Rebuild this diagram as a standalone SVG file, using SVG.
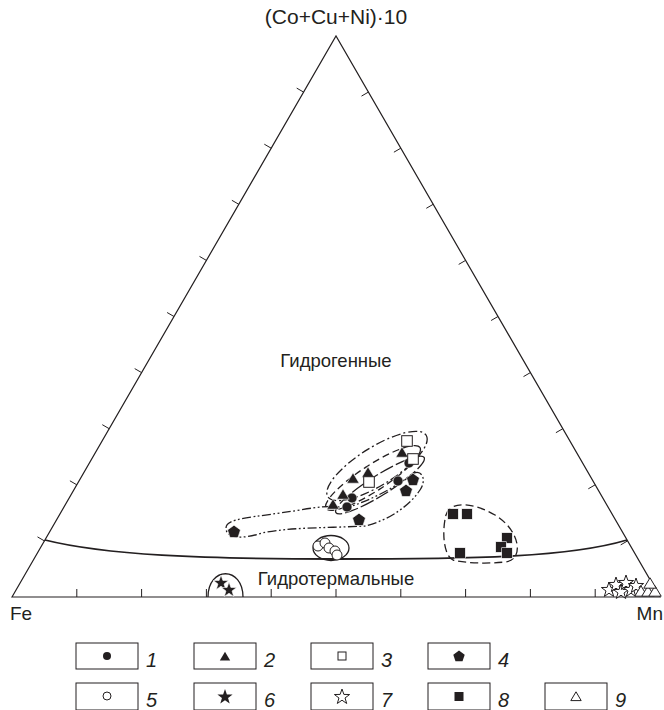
<svg xmlns="http://www.w3.org/2000/svg" width="664" height="710" viewBox="0 0 664 710">
<style>
.ax{fill:none;stroke:#231f20;stroke-width:1.2}
.tk{fill:none;stroke:#231f20;stroke-width:1}
.bnd{fill:none;stroke:#231f20;stroke-width:1.8}
.t{font-family:"Liberation Sans",Arial,sans-serif;font-size:18.5px;fill:#231f20}
.ttl{font-size:21px}
.ax-l{font-size:19px}
.num{font-family:"Liberation Sans",Arial,sans-serif;font-size:20px;font-style:italic;fill:#231f20}
.f{fill:#231f20;stroke:#fff;stroke-width:0.6}
.o{fill:#fff;stroke:#231f20;stroke-width:1}
.ol{fill:none;stroke:#231f20;stroke-width:1.3}
.d1{stroke-dasharray:14 3}
.d2{stroke-dasharray:7 4}
.d3{stroke-dasharray:9 3 2 3}
.d4{stroke-dasharray:9 2.5 1.8 2.5 1.8 2.5}
.d8{stroke-dasharray:8 4}
.box{fill:#fff;stroke:#231f20;stroke-width:1}
</style>
<defs>
<circle id="ci" r="5"/>
<path id="tr" d="M0,-6.2 L6.2,4.2 L-6.2,4.2 Z"/>
<path id="trs" d="M0,-5.2 L5.2,3.6 L-5.2,3.6 Z"/>
<rect id="sq" x="-5.3" y="-5.3" width="10.6" height="10.6"/>
<path id="pe" d="M0,-6.8 L6.467,-2.101 L3.997,5.501 L-3.997,5.501 L-6.467,-2.101 Z"/>
<path id="pes" d="M0,-6 L5.706,-1.854 L3.527,4.854 L-3.527,4.854 L-5.706,-1.854 Z"/>
<path id="st" d="M0,-8 L1.881,-2.589 L7.608,-2.472 L3.043,0.989 L4.703,6.472 L0,3.2 L-4.703,6.472 L-3.043,0.989 L-7.608,-2.472 L-1.881,-2.589 Z"/>
</defs>

<g id="frame">
<path class="ax" d="M12,597 L336,36 L660,597 Z"/>
<path class="tk" d="M76.8,597v-8M141.6,597v-8M206.4,597v-8M271.2,597v-8M336,597v-8M400.8,597v-8M465.6,597v-8M530.4,597v-8M595.2,597v-8"/>
<path class="tk" d="M44.4,540.9l-6.9,-4M76.8,484.8l-6.9,-4M109.2,428.7l-6.9,-4M141.6,372.6l-6.9,-4M174,316.5l-6.9,-4M206.4,260.4l-6.9,-4M238.8,204.3l-6.9,-4M271.2,148.2l-6.9,-4M303.6,92.1l-6.9,-4"/>
<path class="tk" d="M368.4,92.1l-6.9,4M400.8,148.2l-6.9,4M433.2,204.3l-6.9,4M465.6,260.4l-6.9,4M498,316.5l-6.9,4M530.4,372.6l-6.9,4M562.8,428.7l-6.9,4M595.2,484.8l-6.9,4M627.6,540.9l-6.9,4"/>
</g>

<g id="boundary">
<path class="bnd" d="M45,540 C105,555 200,559 336,559 C480,559 570,557 627,540"/>
</g>

<g id="labels">
<text class="t ttl" x="336" y="24" text-anchor="middle">(Co+Cu+Ni)·10</text>
<text class="t" x="336" y="367" text-anchor="middle">Гидрогенные</text>
<text class="t" x="336" y="585" text-anchor="middle">Гидротермальные</text>
<text class="t ax-l" x="10" y="620">Fe</text>
<text class="t ax-l" x="663" y="620" text-anchor="end">Mn</text>
</g>

<g id="connectors">
<ellipse class="ol d3" cx="377" cy="466" rx="58" ry="19" transform="rotate(-32 377 466)"/>
<ellipse class="ol d2" cx="373" cy="478" rx="56" ry="13" transform="rotate(-33 373 478)"/>
<ellipse class="ol d1" cx="380" cy="485" rx="52" ry="10" transform="rotate(-32 380 485)"/>
<path class="ol d4" d="M226,528 C226,518 250,518 300,510 C318,507 332,505 345,508 C365,503 395,488 412,474 C422,468 427,480 420,490 C410,505 390,520 365,526 C330,528 290,527 262,533 C240,540 226,538 226,528 Z"/>
<ellipse class="ol" cx="331" cy="548" rx="18" ry="12.5"/>
<path class="ol d8" d="M446,515 C450,500 475,503 495,515 C520,530 525,560 505,562 C485,564 465,563 453,560 C443,555 442,530 446,515 Z"/>
<path class="ol" d="M208,597 C208,566 243,566 243,597"/>
</g>

<g id="group1-circles">
<use href="#ci" class="f" x="409" y="463"/>
<use href="#ci" class="f" x="398" y="481"/>
<use href="#ci" class="f" x="352" y="498"/>
<use href="#ci" class="f" x="347" y="507"/>
</g>
<g id="group2-triangles">
<use href="#tr" class="f" x="402" y="453"/>
<use href="#tr" class="f" x="368" y="473"/>
<use href="#tr" class="f" x="353" y="479"/>
<use href="#tr" class="f" x="343" y="495"/>
<use href="#tr" class="f" x="333" y="505"/>
</g>
<g id="group3-squares">
<use href="#sq" class="o" x="407" y="441"/>
<use href="#sq" class="o" x="369" y="482"/>
<use href="#sq" class="o" x="413" y="459"/>
</g>
<g id="group4-pentagons">
<use href="#pe" class="f" x="413" y="480"/>
<use href="#pe" class="f" x="406" y="491"/>
<use href="#pe" class="f" x="359" y="520"/>
<use href="#pe" class="f" x="234" y="532"/>
</g>
<g id="group5-opencircles">
<circle class="o" cx="318" cy="546" r="5"/>
<circle class="o" cx="325" cy="543" r="5"/>
<circle class="o" cx="329" cy="548" r="5"/>
<circle class="o" cx="335" cy="551" r="5"/>
<circle class="o" cx="337" cy="555" r="5"/>
</g>
<g id="group6-stars">
<use href="#st" class="f" x="221" y="583"/>
<use href="#st" class="f" x="229" y="590"/>
</g>
<g id="group7-openstars">
<use href="#st" class="o" x="609" y="590"/>
<use href="#st" class="o" x="616" y="585"/>
<use href="#st" class="o" x="621" y="592"/>
<use href="#st" class="o" x="626" y="583"/>
<use href="#st" class="o" x="631" y="590"/>
<use href="#st" class="o" x="636" y="586"/>
</g>
<g id="group8-squares">
<use href="#sq" class="f" x="453" y="514"/>
<use href="#sq" class="f" x="467" y="514"/>
<use href="#sq" class="f" x="460" y="553"/>
<use href="#sq" class="f" x="507" y="538"/>
<use href="#sq" class="f" x="501" y="547"/>
<use href="#sq" class="f" x="507" y="553"/>
</g>
<g id="group9-opentriangles">
<use href="#tr" class="o" x="641" y="592"/>
<use href="#tr" class="o" x="648" y="592"/>
<use href="#tr" class="o" x="655" y="592"/>
<use href="#tr" class="o" x="650" y="584"/>
</g>

<g id="legend-1"><rect class="box" x="76" y="643" width="62" height="26"/><circle cx="107" cy="656" r="4" fill="#231f20"/><text class="num" x="146" y="667">1</text></g>
<g id="legend-2"><rect class="box" x="194" y="643" width="62" height="26"/><use href="#trs" fill="#231f20" x="225" y="657"/><text class="num" x="264" y="667">2</text></g>
<g id="legend-3"><rect class="box" x="311" y="643" width="62" height="26"/><rect x="338" y="652" width="8" height="8" class="o"/><text class="num" x="381" y="667">3</text></g>
<g id="legend-4"><rect class="box" x="428" y="643" width="62" height="26"/><use href="#pes" fill="#231f20" x="459" y="656.5"/><text class="num" x="498" y="667">4</text></g>
<g id="legend-5"><rect class="box" x="76" y="683" width="62" height="27"/><circle cx="107" cy="696" r="4" class="o"/><text class="num" x="146" y="707">5</text></g>
<g id="legend-6"><rect class="box" x="194" y="683" width="62" height="27"/><use href="#st" fill="#231f20" x="225" y="697"/><text class="num" x="264" y="707">6</text></g>
<g id="legend-7"><rect class="box" x="311" y="683" width="62" height="27"/><use href="#st" class="o" x="342" y="697"/><text class="num" x="381" y="707">7</text></g>
<g id="legend-8"><rect class="box" x="428" y="683" width="62" height="27"/><rect x="454.5" y="692" width="9" height="9" fill="#231f20"/><text class="num" x="498" y="707">8</text></g>
<g id="legend-9"><rect class="box" x="545" y="683" width="62" height="27"/><use href="#trs" class="o" x="576" y="697"/><text class="num" x="615" y="707">9</text></g>
</svg>
